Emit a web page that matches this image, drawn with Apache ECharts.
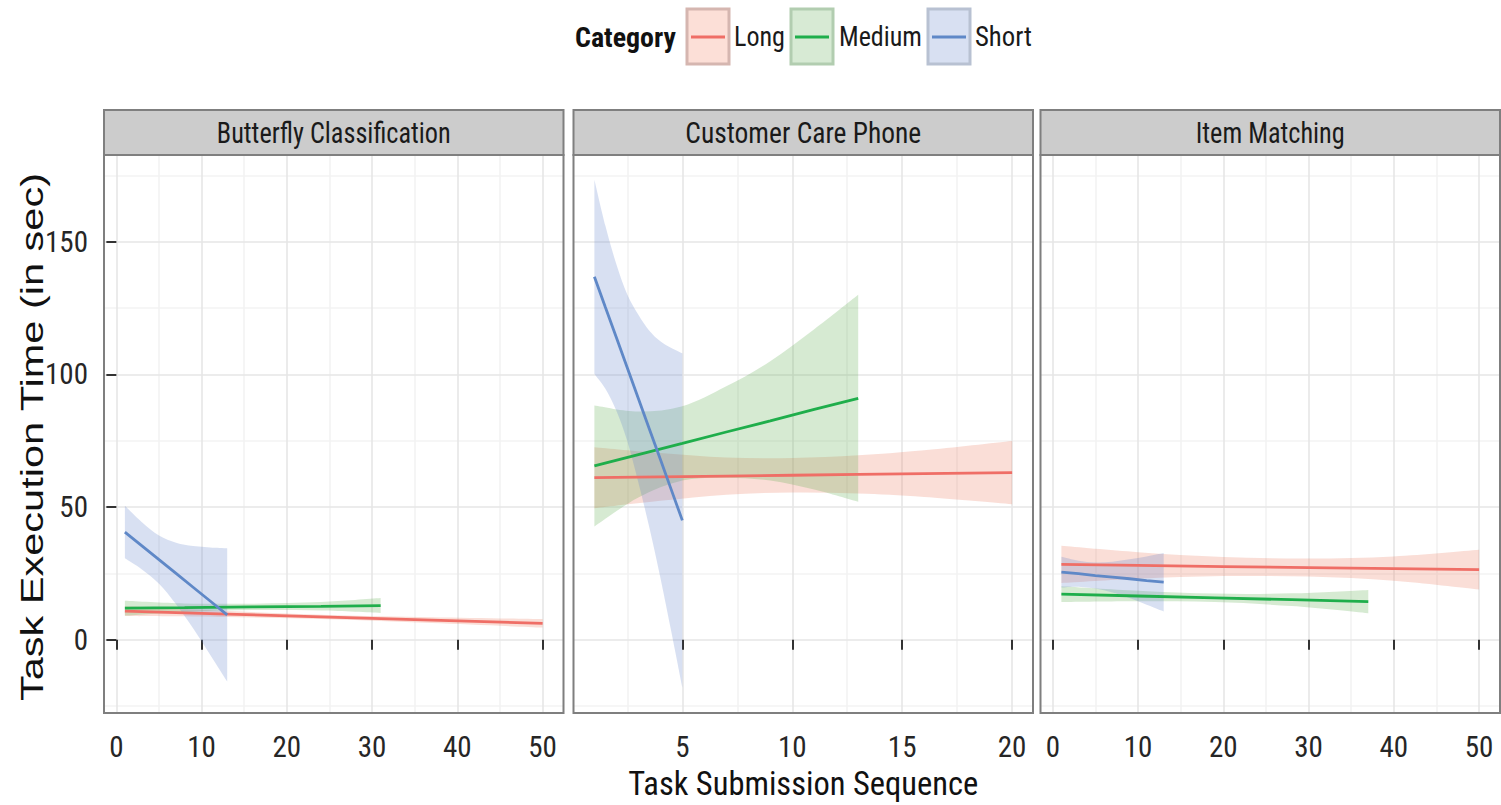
<!DOCTYPE html>
<html>
<head>
<meta charset="utf-8">
<script src="https://cdn.jsdelivr.net/npm/echarts@6/dist/echarts.min.js"></script>
<style>
html,body{margin:0;padding:0;background:#ffffff;}
#chart{width:1501px;height:805px;}
</style>
</head>
<body>
<div id="chart"></div>
<script>
// ---------- data ----------
const categories = ['Long', 'Medium', 'Short'];
const panelTitles = ['Butterfly Classification', 'Customer Care Phone', 'Item Matching'];
const legendTitle = 'Category';
const xAxisTitle = 'Task Submission Sequence';
const yAxisTitle = 'Task Execution Time (in sec)';

const yTicks = [0, 50, 100, 150];
const yMinor = [-25, 25, 75, 125, 175];
const xTicksBF = [0, 10, 20, 30, 40, 50];
const xMinorBF = [5, 15, 25, 35, 45];
const xTicksCC = [5, 10, 15, 20];
const xMinorCC = [2.5, 7.5, 12.5, 17.5];
const xTicksIM = [0, 10, 20, 30, 40, 50];
const xMinorIM = [5, 15, 25, 35, 45];

// Butterfly Classification
const bfLongX = [1, 13, 25, 37, 50];
const bfLongFit = [10.8, 9.7, 8.5, 7.4, 6.2];
const bfLongLo = [9.0, 8.6, 7.7, 6.3, 4.6];
const bfLongHi = [12.6, 10.8, 9.3, 8.5, 7.8];
const bfMedX = [1, 8, 16, 24, 31];
const bfMedFit = [11.9, 12.1, 12.4, 12.6, 12.9];
const bfMedLo = [9.1, 10.5, 11.2, 11.0, 10.1];
const bfMedHi = [14.7, 13.7, 13.6, 14.2, 15.7];
const bfShortX = [1, 3, 5, 7, 9, 11, 13];
const bfShortFit = [40.6, 35.4, 30.2, 25.0, 19.8, 14.6, 9.4];
const bfShortLo = [30.7, 26.5, 21.1, 13.4, 4.3, -5.6, -15.7];
const bfShortHi = [50.5, 44.3, 39.3, 36.6, 35.3, 34.8, 34.5];

// Customer Care Phone
const ccLongX = [1, 4, 7, 10, 13, 16, 20];
const ccLongFit = [61.1, 61.4, 61.7, 62.0, 62.3, 62.6, 63.0];
const ccLongLo = [49.6, 52.4, 54.7, 55.5, 55.1, 53.8, 51.1];
const ccLongHi = [72.6, 70.4, 68.7, 68.5, 69.5, 71.4, 74.9];
const ccMedX = [1, 3, 5, 7, 9, 11, 13];
const ccMedFit = [65.5, 69.8, 74.0, 78.3, 82.5, 86.8, 91.0];
const ccMedLo = [42.7, 53.6, 60.0, 61.1, 60.0, 56.6, 52.0];
const ccMedHi = [88.3, 86.0, 88.0, 95.5, 105.0, 117.0, 130.0];
const ccShortX = [1, 1.5, 2, 2.5, 3, 3.5, 4, 4.5, 5];
const ccShortFit = [136.8, 125.3, 113.9, 102.4, 90.9, 79.4, 68.0, 56.5, 45.0];
const ccShortLo = [100.2, 94.6, 86.3, 74.8, 59.3, 42.3, 23.5, 3.0, -18.0];
const ccShortHi = [173.4, 156.0, 141.5, 130.0, 122.5, 116.5, 112.5, 110.0, 108.0];

// Item Matching
const imLongX = [1, 10, 20, 30, 40, 50];
const imLongFit = [28.4, 28.0, 27.6, 27.2, 26.8, 26.4];
const imLongLo = [21.4, 23.0, 24.0, 23.8, 22.2, 18.9];
const imLongHi = [35.4, 33.0, 31.2, 30.6, 31.4, 33.9];
const imMedX = [1, 10, 19, 28, 37];
const imMedFit = [17.2, 16.5, 15.8, 15.1, 14.4];
const imMedLo = [14.2, 14.5, 14.2, 12.7, 10.0];
const imMedHi = [20.2, 18.5, 17.4, 17.5, 18.8];
const imShortX = [1, 3, 5, 7, 9, 11, 13];
const imShortFit = [25.5, 24.9, 24.2, 23.6, 23.0, 22.3, 21.7];
const imShortLo = [19.7, 20.0, 19.3, 17.8, 15.7, 13.2, 10.7];
const imShortHi = [31.3, 29.8, 29.1, 29.4, 30.3, 31.4, 32.7];

// ---------- font selection ----------
const measureCtx = document.createElement('canvas').getContext('2d');
function textWidth(text, size, family, weight) {
  measureCtx.font = (weight || 'normal') + ' ' + size + 'px ' + family;
  return measureCtx.measureText(text).width;
}
function fontAvailable(name) {
  const t = 'Butterfly Classification 0123456789';
  return textWidth(t, 40, '"' + name + '", monospace') !== textWidth(t, 40, 'monospace') ||
         textWidth(t, 40, '"' + name + '", serif') !== textWidth(t, 40, 'serif');
}
const narrowCandidates = ['Liberation Sans Narrow', 'Arial Narrow', 'Nimbus Sans Narrow', 'Roboto Condensed',
  'Noto Sans Condensed', 'Open Sans Condensed', 'Noto Sans ExtraCondensed', 'DejaVu Sans Condensed'];
let narrowName = 'Liberation Sans';
for (const n of narrowCandidates) { if (fontAvailable(n)) { narrowName = n; break; } }
const NARROW = '"' + narrowName + '", "Liberation Sans", sans-serif';
const REGULAR = '"Liberation Sans", Arial, Helvetica, sans-serif';
function fitSize(text, target, family, weight, lo, hi) {
  const s = 40 * target / textWidth(text, 40, family, weight);
  return Math.max(lo, Math.min(hi, Math.round(s * 2) / 2));
}
const tickSize = fitSize('150', 43, NARROW, 'normal', 24, 30);
const xTitleSize = fitSize(xAxisTitle, 350, NARROW, 'normal', 26, 34);
const yTitleSize = fitSize(yAxisTitle, 528, REGULAR, 'normal', 30, 44);

// ---------- styling & layout ----------
const lineColors = { Long: '#EF6E66', Medium: '#1FAE4B', Short: '#5F88C7' };
const fillColors = { Long: 'rgba(235,123,95,0.25)', Medium: 'rgba(91,171,75,0.25)', Short: 'rgba(99,131,203,0.25)' };
const keyFill = { Long: '#FCDFD7', Medium: '#D7EAD4', Short: '#D8E0F2' };
const keyStroke = { Long: '#D5B6B0', Medium: '#B2CDB0', Short: '#B8C1D2' };

const panelLeft = [104, 573.5, 1040.5];
const panelWidth = 459.5;
const panelTop = 155;
const panelHeight = 558;
const stripTop = 110;
const xRanges = [[-1.45, 52.45], [0.05, 20.95], [-1.45, 52.45]];
const yRange = [-27.6, 182.7];

const panels = [
  { Long: { x: bfLongX, fit: bfLongFit, lo: bfLongLo, hi: bfLongHi },
    Medium: { x: bfMedX, fit: bfMedFit, lo: bfMedLo, hi: bfMedHi },
    Short: { x: bfShortX, fit: bfShortFit, lo: bfShortLo, hi: bfShortHi } },
  { Long: { x: ccLongX, fit: ccLongFit, lo: ccLongLo, hi: ccLongHi },
    Medium: { x: ccMedX, fit: ccMedFit, lo: ccMedLo, hi: ccMedHi },
    Short: { x: ccShortX, fit: ccShortFit, lo: ccShortLo, hi: ccShortHi } },
  { Long: { x: imLongX, fit: imLongFit, lo: imLongLo, hi: imLongHi },
    Medium: { x: imMedX, fit: imMedFit, lo: imMedLo, hi: imMedHi },
    Short: { x: imShortX, fit: imShortFit, lo: imShortLo, hi: imShortHi } }
];
const xMajor = [xTicksBF, xTicksCC, xTicksIM];
const xMinorList = [xMinorBF, xMinorCC, xMinorIM];

const grids = panelLeft.map(l => ({ left: l, top: panelTop, width: panelWidth, height: panelHeight, containLabel: false }));

const xAxes = [];
const yAxes = [];
for (let i = 0; i < 3; i++) {
  xAxes.push({
    type: 'value', gridIndex: i, min: xRanges[i][0], max: xRanges[i][1], z: 1,
    axisLine: { show: false },
    axisTick: { show: true, length: 10, customValues: xMajor[i], lineStyle: { color: '#333333', width: 2 } },
    axisLabel: { customValues: xMajor[i], fontFamily: NARROW, fontSize: tickSize, color: '#262626', margin: 19 },
    splitLine: { show: true, lineStyle: { color: '#e6e6e6', width: 1.6 } },
    name: i === 1 ? xAxisTitle : '', nameLocation: 'middle', nameGap: 54,
    nameTextStyle: { fontFamily: NARROW, fontSize: xTitleSize, color: '#111111' }
  });
  yAxes.push({
    type: 'value', gridIndex: i, min: yRange[0], max: yRange[1], z: 1,
    axisLine: { show: false },
    axisTick: { show: i === 0, length: 10, customValues: yTicks, lineStyle: { color: '#333333', width: 2 } },
    axisLabel: { show: i === 0, customValues: yTicks, fontFamily: NARROW, fontSize: tickSize, color: '#262626', margin: 16 },
    splitLine: { show: true, lineStyle: { color: '#e6e6e6', width: 1.6 } }
  });
}
for (let i = 0; i < 3; i++) {
  xAxes.push({
    type: 'value', gridIndex: i, min: xRanges[i][0], max: xRanges[i][1], z: 0,
    axisLine: { show: false }, axisTick: { show: false, customValues: xMinorList[i] },
    axisLabel: { show: false, customValues: xMinorList[i] },
    splitLine: { show: true, lineStyle: { color: '#f3f3f3', width: 1.6 } }
  });
  yAxes.push({
    type: 'value', gridIndex: i, min: yRange[0], max: yRange[1], z: 0,
    axisLine: { show: false }, axisTick: { show: false, customValues: yMinor },
    axisLabel: { show: false, customValues: yMinor },
    splitLine: { show: true, lineStyle: { color: '#f3f3f3', width: 1.6 } }
  });
}

// smooth (Catmull-Rom style) bezier segments through the pixel points
function curveSegments(pts) {
  let d = '';
  const n = pts.length;
  for (let k = 0; k < n - 1; k++) {
    const p0 = pts[Math.max(k - 1, 0)], p1 = pts[k], p2 = pts[k + 1], p3 = pts[Math.min(k + 2, n - 1)];
    const c1x = p1[0] + (p2[0] - p0[0]) / 6, c1y = p1[1] + (p2[1] - p0[1]) / 6;
    const c2x = p2[0] - (p3[0] - p1[0]) / 6, c2y = p2[1] - (p3[1] - p1[1]) / 6;
    d += ' C ' + c1x + ' ' + c1y + ' ' + c2x + ' ' + c2y + ' ' + p2[0] + ' ' + p2[1];
  }
  return d;
}
function ribbonRenderer(fill) {
  return function (params, api) {
    if (params.dataIndexInside !== 0) return null;
    const n = params.dataInsideLength;
    const upper = [], lower = [];
    for (let k = 0; k < n; k++) {
      const x = api.value(0, k);
      upper.push(api.coord([x, api.value(2, k)]));
      lower.push(api.coord([x, api.value(1, k)]));
    }
    lower.reverse();
    const d = 'M ' + upper[0][0] + ' ' + upper[0][1] + curveSegments(upper) +
      ' L ' + lower[0][0] + ' ' + lower[0][1] + curveSegments(lower) + ' Z';
    return { type: 'path', silent: true, shape: { pathData: d }, style: { fill: fill, stroke: 'none' } };
  };
}

const series = [];
panels.forEach((p, i) => {
  categories.forEach(cat => {
    const d = p[cat];
    series.push({
      type: 'custom', name: cat + ' 95% CI', xAxisIndex: i, yAxisIndex: i, silent: true,
      renderItem: ribbonRenderer(fillColors[cat]),
      encode: { x: 0, y: [1, 2] },
      data: d.x.map((x, k) => [x, d.lo[k], d.hi[k]])
    });
    series.push({
      type: 'line', name: cat, xAxisIndex: i, yAxisIndex: i, symbol: 'none', silent: true,
      lineStyle: { color: lineColors[cat], width: 2.8 },
      itemStyle: { color: lineColors[cat] },
      data: d.x.map((x, k) => [x, d.fit[k]])
    });
  });
});

// frames, strips, legend, y title
function scaledText(text, x, y, size, weight, align, target, fill) {
  const w = textWidth(text, size, NARROW, weight);
  return {
    type: 'text', z: 101, silent: true, x: x, y: y, scaleX: target / w,
    style: { text: text, fontFamily: NARROW, fontWeight: weight, fontSize: size, fill: fill,
             textAlign: align, textVerticalAlign: 'middle' }
  };
}
const stripTextWidth = [234, 236, 149];
const graphic = [];
for (let i = 0; i < 3; i++) {
  graphic.push({
    type: 'rect', z: 100, silent: true,
    shape: { x: panelLeft[i], y: stripTop, width: panelWidth, height: panelTop - stripTop },
    style: { fill: '#cccccc', stroke: '#7f7f7f', lineWidth: 2 }
  });
  graphic.push(scaledText(panelTitles[i], panelLeft[i] + panelWidth / 2, (stripTop + panelTop) / 2 + 1,
    29, 'normal', 'center', stripTextWidth[i], '#1a1a1a'));
  graphic.push({
    type: 'rect', z: 100, silent: true,
    shape: { x: panelLeft[i], y: panelTop, width: panelWidth, height: panelHeight },
    style: { fill: 'none', stroke: '#7f7f7f', lineWidth: 2 }
  });
}
graphic.push({
  type: 'text', z: 101, silent: true, x: 32, y: 437, rotation: Math.PI / 2, scaleY: 0.76,
  style: { text: yAxisTitle, fontFamily: REGULAR, fontSize: yTitleSize, fill: '#111111',
           textAlign: 'center', textVerticalAlign: 'middle' }
});
const legendY = 37;
graphic.push(scaledText(legendTitle, 575, legendY, 28, 'bold', 'left', 101, '#111111'));
const keyLeft = { Long: 687, Medium: 791, Short: 928 };
const textLeft = { Long: 734, Medium: 839, Short: 975 };
const textW = { Long: 51, Medium: 83, Short: 57 };
categories.forEach(cat => {
  graphic.push({
    type: 'rect', z: 100, silent: true,
    shape: { x: keyLeft[cat], y: 9, width: 42, height: 55 },
    style: { fill: keyFill[cat], stroke: keyStroke[cat], lineWidth: 3 }
  });
  graphic.push({
    type: 'line', z: 101, silent: true,
    shape: { x1: keyLeft[cat] + 4, y1: legendY, x2: keyLeft[cat] + 38, y2: legendY },
    style: { stroke: lineColors[cat], lineWidth: 3 }
  });
  graphic.push(scaledText(cat, textLeft[cat], legendY, 28, 'normal', 'left', textW[cat], '#1a1a1a'));
});

const chart = echarts.init(document.getElementById('chart'), null, { renderer: 'svg' });
chart.setOption({
  animation: false,
  backgroundColor: '#ffffff',
  grid: grids,
  xAxis: xAxes,
  yAxis: yAxes,
  series: series,
  graphic: graphic
});
</script>
</body>
</html>
